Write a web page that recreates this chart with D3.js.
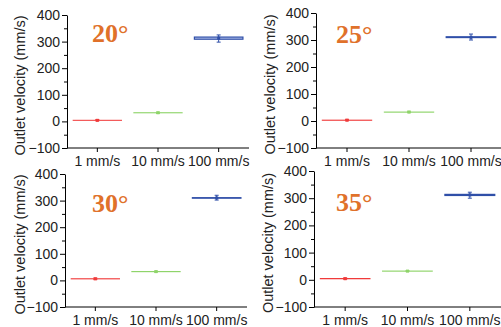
<!DOCTYPE html>
<html>
<head>
<meta charset="utf-8">
<script src="https://cdn.jsdelivr.net/npm/d3@7"></script>
<style>
  body { margin: 0; background: #fff; }
  svg { display: block; }
</style>
</head>
<body>
<div id="chart"></div>
<script>
// categories and titles
var categories = ["1 mm/s", "10 mm/s", "100 mm/s"];
var angles = ["20°", "25°", "30°", "35°"];
var yTicks = [-100, 0, 100, 200, 300, 400];

// box stats per category: [min, q1, median, q3, max]
var box20 = [[2, 3.5, 4, 4.5, 7], [30, 32, 32.5, 33, 35], [298, 309, 313, 317, 325]];
var box25 = [[1, 2.5, 3, 3.5, 6], [31, 32.5, 33, 33.5, 36], [300, 309, 310, 312, 322]];
var box30 = [[3, 5.5, 6, 6.5, 9], [31, 32.5, 33, 33.5, 35], [302, 309, 310, 311, 320]];
var box35 = [[2, 3.5, 4, 4.5, 7], [30, 31.5, 32, 32.5, 34], [300, 310, 312, 314, 322]];

var strokeColors = ["#f03a3a", "#8fd46a", "#2f4fa8"];
var fillColors = ["#f7a0a0", "#c4ebb0", "#b8c6ee"];
var font = "Arial, 'Liberation Sans', sans-serif";

var svg = d3.select("#chart").append("svg")
  .attr("width", 501)
  .attr("height", 327);

// panel layout (left, right, top, bottom of plot area)
var panels = [
  {data: box20, title: angles[0], left: 67, right: 249, top: 15, bottom: 148, labelX: 20, titleX: 92, titleY: 42},
  {data: box25, title: angles[1], left: 316, right: 502, top: 13, bottom: 148, labelX: 270, titleX: 336, titleY: 43},
  {data: box30, title: angles[2], left: 65, right: 247, top: 174, bottom: 307, labelX: 20, titleX: 92, titleY: 212},
  {data: box35, title: angles[3], left: 314, right: 501, top: 171, bottom: 307, labelX: 268, titleX: 336, titleY: 211}
];

panels.forEach(function(p) {
  var x = d3.scaleBand()
    .domain(categories)
    .range([p.left, p.right]);
  var y = d3.scaleLinear()
    .domain([-100, 400])
    .range([p.bottom, p.top]);

  var g = svg.append("g");

  // minor ticks
  g.append("g")
    .attr("transform", "translate(" + p.left + ",0)")
    .call(d3.axisLeft(y).tickValues(d3.range(-50, 400, 100)).tickSize(3).tickFormat(""))
    .call(function(a) { a.select(".domain").remove(); });

  // y axis
  var ya = g.append("g")
    .attr("transform", "translate(" + p.left + ",0)")
    .call(d3.axisLeft(y).tickValues(yTicks).tickSize(5).tickSizeOuter(0).tickPadding(2));
  ya.selectAll("text").style("font-size", "14px").style("font-family", font).attr("fill", "#222");

  // x axis
  var xa = g.append("g")
    .attr("transform", "translate(0," + p.bottom + ")")
    .call(d3.axisBottom(x).tickSize(4).tickSizeOuter(0).tickPadding(4));
  xa.selectAll("text").style("font-size", "14px").style("font-family", font).attr("fill", "#222");
  xa.select(".domain").attr("d", "M" + p.left + ",0H" + Math.min(p.right, 501));

  // y label
  g.append("text")
    .attr("transform", "translate(" + (p.labelX + 5) + "," + ((p.top + p.bottom) / 2 + 4) + ") rotate(-90)")
    .attr("text-anchor", "middle")
    .style("font-size", "14.5px")
    .style("font-family", font)
    .attr("fill", "#222")
    .text("Outlet velocity (mm/s)");

  // title
  g.append("text")
    .attr("x", p.titleX)
    .attr("y", p.titleY)
    .style("font-family", "'Liberation Serif', 'Times New Roman', serif")
    .style("font-weight", "bold")
    .style("font-size", "26px")
    .attr("fill", "#e0712a")
    .text(p.title);

  // boxes
  var bw = x.bandwidth() * 0.8;
  var boxes = g.selectAll(".box")
    .data(p.data)
    .enter().append("g")
    .attr("class", "box");

  boxes.append("line")
    .attr("x1", function(d, i) { return x(categories[i]) + x.bandwidth() / 2; })
    .attr("x2", function(d, i) { return x(categories[i]) + x.bandwidth() / 2; })
    .attr("y1", function(d) { return y(d[0]); })
    .attr("y2", function(d) { return y(d[4]); })
    .attr("stroke", function(d, i) { return strokeColors[i]; })
    .attr("stroke-width", 1);

  boxes.selectAll(".cap")
    .data(function(d, i) { return [[d[0], i], [d[4], i]]; })
    .enter().append("line")
    .attr("x1", function(d) { return x(categories[d[1]]) + x.bandwidth() / 2 - 2; })
    .attr("x2", function(d) { return x(categories[d[1]]) + x.bandwidth() / 2 + 2; })
    .attr("y1", function(d) { return y(d[0]); })
    .attr("y2", function(d) { return y(d[0]); })
    .attr("stroke", function(d) { return strokeColors[d[1]]; })
    .attr("stroke-width", 1);

  boxes.append("rect")
    .attr("x", function(d, i) { return x(categories[i]) + (x.bandwidth() - bw) / 2; })
    .attr("y", function(d) { return y(d[3]); })
    .attr("width", bw)
    .attr("height", function(d) { return Math.max(y(d[1]) - y(d[3]), 0.3); })
    .attr("fill", function(d, i) { return fillColors[i]; })
    .attr("stroke", function(d, i) { return strokeColors[i]; })
    .attr("stroke-width", function(d, i) { return i == 2 ? 1.2 : 0.8; });

  boxes.append("rect")
    .attr("x", function(d, i) { return x(categories[i]) + x.bandwidth() / 2 - 1.5; })
    .attr("y", function(d) { return y(d[2]) - 1.5; })
    .attr("width", 3)
    .attr("height", 3)
    .attr("fill", function(d, i) { return strokeColors[i]; });
});
</script>
</body>
</html>
